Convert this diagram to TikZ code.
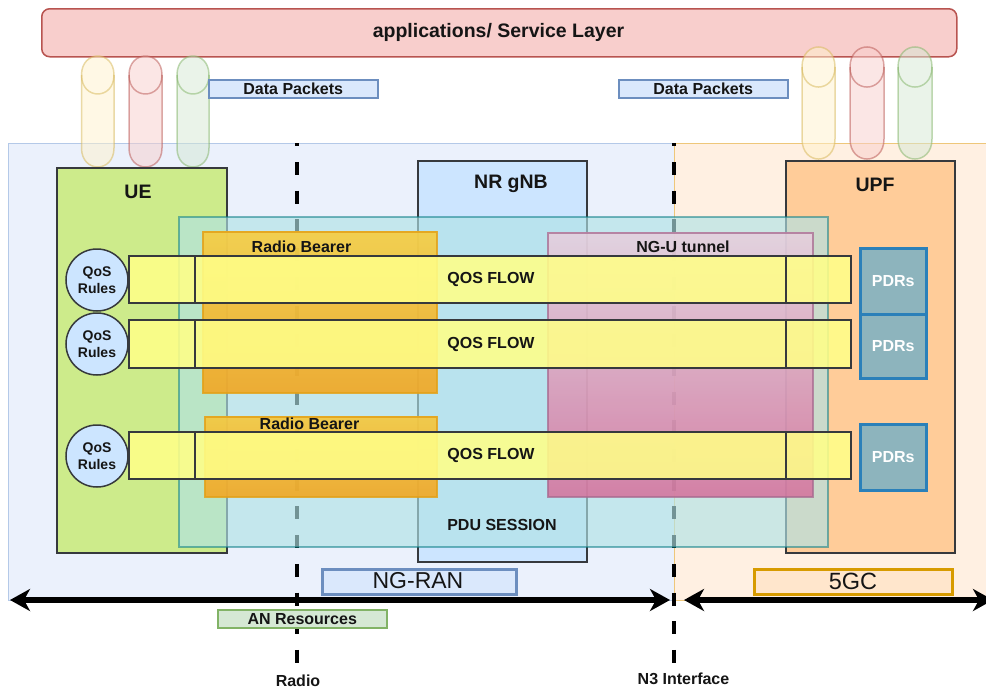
\documentclass[tikz,border=0pt]{standalone}
\usepackage{fontspec}
\setmainfont{Liberation Sans}
\usetikzlibrary{arrows.meta}
\definecolor{ranfill}{HTML}{EBF1FC}
\definecolor{ranline}{HTML}{B4C9E8}
\definecolor{gcfill}{HTML}{FFF0E2}
\definecolor{gcline}{HTML}{EEC77A}
\definecolor{appfill}{HTML}{F8CECC}
\definecolor{appline}{HTML}{B85450}
\definecolor{ylwfill}{HTML}{FFF2CC}
\definecolor{ylwline}{HTML}{D6B656}
\definecolor{redfill}{HTML}{F8CECC}
\definecolor{redline}{HTML}{B85450}
\definecolor{grnfill}{HTML}{D5E8D4}
\definecolor{grnline}{HTML}{82B366}
\definecolor{bluefill}{HTML}{DAE8FC}
\definecolor{blueline}{HTML}{6C8EBF}
\definecolor{uefill}{HTML}{CDEB8B}
\definecolor{gnbfill}{HTML}{CCE5FF}
\definecolor{upffill}{HTML}{FFCC99}
\definecolor{darkline}{HTML}{36393D}
\definecolor{pdufill}{HTML}{B0E3E6}
\definecolor{pduline}{HTML}{0E8088}
\definecolor{rbtop}{HTML}{F5CE45}
\definecolor{rbbot}{HTML}{F0A828}
\definecolor{rbline}{HTML}{E3A21A}
\definecolor{ngutop}{HTML}{E6D0DE}
\definecolor{ngubot}{HTML}{D5739D}
\definecolor{nguline}{HTML}{A86A90}
\definecolor{flowfill}{HTML}{FFFF88}
\definecolor{pdrfill}{HTML}{8DB4BD}
\definecolor{pdrline}{HTML}{2B80B9}
\definecolor{gcboxfill}{HTML}{FFE6CC}
\definecolor{gcboxline}{HTML}{D79B00}
\definecolor{txt}{HTML}{151515}

\tikzset{
  box/.style={draw=darkline, line width=1.5pt, anchor=north west, inner sep=0pt, outer sep=0pt},
  lab/.style={inner sep=0pt, text=txt, font=\fontsize{16}{18}\selectfont\bfseries},
  biglab/.style={inner sep=0pt, text=txt, font=\fontsize{19.5}{22}\selectfont\bfseries},
  rulelab/.style={inner sep=0pt, text=txt, align=center, font=\fontsize{14}{17}\selectfont\bfseries},
  pdrlab/.style={inner sep=0pt, text=white, font=\fontsize{16}{18}\selectfont\bfseries},
  dashline/.style={line width=3.3pt, black, dash pattern=on 13pt off 15.7pt, dash phase=9.7pt},
  bigarrow/.style={line width=6pt, black, {Stealth[length=20pt, width=22pt, inset=6pt]}-{Stealth[length=20pt, width=22pt, inset=6pt]}},
  flowline/.style={draw=darkline, line width=1.5pt},
  rulecirc/.style={circle, draw=darkline, line width=1.5pt, fill=gnbfill, minimum size=62pt, inner sep=0pt},
  pdrbox/.style={draw=pdrline, line width=2.5pt, fill=pdrfill, anchor=north west, inner sep=0pt, minimum width=66pt}
}

\newcommand\cyl[7]{%
  \path[fill=#6, fill opacity=0.5, draw=#7, draw opacity=0.5, line width=1.5pt]
    (#1,#3) .. controls (#1,#3-#5) and (#2,#3-#5) .. (#2,#3) -- (#2,#4)
    .. controls (#2,#4+#5) and (#1,#4+#5) .. (#1,#4) -- cycle;
  \path[draw=#7, draw opacity=0.5, line width=1.5pt]
    (#1,#3) .. controls (#1,#3+#5) and (#2,#3+#5) .. (#2,#3);}

\newcommand\qflow[3]{%
  \node[box, fill=flowfill, fill opacity=0.88, minimum width=722pt, minimum height=#3pt] (#1) at (129,#2) {};
  \draw[flowline] ([xshift=66pt]#1.north west) -- ([xshift=66pt]#1.south west);
  \draw[flowline] ([xshift=-65pt]#1.north east) -- ([xshift=-65pt]#1.south east);
  \node[lab] at ([xshift=1pt]#1.center) {QOS FLOW};}

\begin{document}
\begin{tikzpicture}[x=1pt, y=-1pt]
\useasboundingbox (0,0) rectangle (986,689);

% domain regions
\node[draw=ranline, line width=1.2pt, fill=ranfill, anchor=north west, inner sep=0pt, minimum width=666pt, minimum height=457pt] (ran) at (8,143) {};
\node[draw=gcline, line width=1.2pt, fill=gcfill, anchor=north west, inner sep=0pt, minimum width=330pt, minimum height=457pt] (gc) at (674,143) {};

% application layer
\node[draw=appline, line width=1.5pt, fill=appfill, rounded corners=8pt, anchor=north west, inner sep=0pt, minimum width=915pt, minimum height=48pt] (app) at (41,8) {};
\node[biglab] (apptxt) at (498.5,32) {applications/ Service Layer};

% cylinders
\cyl{81.5}{114}{75}{148}{25.3}{ylwfill}{ylwline}
\cyl{129}{162}{75}{148}{25.3}{redfill}{redline}
\cyl{177}{209}{75}{148}{25.3}{grnfill}{grnline}
\cyl{802}{835}{67}{139}{26.7}{ylwfill}{ylwline}
\cyl{850}{884}{67}{139}{26.7}{redfill}{redline}
\cyl{898}{932}{67}{139}{26.7}{grnfill}{grnline}

% data packets labels
\node[draw=blueline, line width=1.5pt, fill=bluefill, anchor=north west, inner sep=0pt, minimum width=169pt, minimum height=18pt] (dp1) at (208,79) {};
\node[lab] at (dp1.center) {Data Packets};
\node[draw=blueline, line width=1.5pt, fill=bluefill, anchor=north west, inner sep=0pt, minimum width=169pt, minimum height=18pt] (dp2) at (618,79) {};
\node[lab] at (dp2.center) {Data Packets};

% interface dashed lines
\coordinate (radtop) at (297,143);
\coordinate (radbot) at (297,665);
\coordinate (n3top) at (674,143);
\coordinate (n3bot) at (674,665);
\draw[dashline] (radtop) -- (radbot);
\draw[dashline] (n3top) -- (n3bot);

% network functions
\node[box, fill=uefill, minimum width=170pt, minimum height=385pt] (ue) at (57,168) {};
\node[box, fill=gnbfill, minimum width=169pt, minimum height=401pt] (gnb) at (418,161) {};
\node[box, fill=upffill, minimum width=169pt, minimum height=392pt] (upf) at (786,161) {};
\node[biglab] at (138,192) {UE};
\node[biglab] at (511,184) {NR gNB};
\node[biglab] at (875,185) {UPF};

% PDU session
\node[draw=pduline, draw opacity=0.55, line width=1.5pt, fill=pdufill, fill opacity=0.65, anchor=north west, inner sep=0pt, minimum width=649pt, minimum height=330pt] (pdu) at (178,216) {};
\node[lab] at (502,525) {PDU SESSION};

% radio bearers and NG-U tunnel
\node[draw=rbline, draw opacity=0.85, line width=1.5pt, top color=rbtop, bottom color=rbbot, fill opacity=0.93, anchor=north west, inner sep=0pt, minimum width=234pt, minimum height=161pt] (rb1) at (202,231) {};
\node[draw=rbline, draw opacity=0.85, line width=1.5pt, top color=rbtop!85!rbbot, bottom color=rbbot, fill opacity=0.93, anchor=north west, inner sep=0pt, minimum width=232pt, minimum height=80pt] (rb2) at (204,416) {};
\node[draw=nguline, draw opacity=0.75, line width=1.5pt, top color=ngutop, bottom color=ngubot, fill opacity=0.88, anchor=north west, inner sep=0pt, minimum width=265pt, minimum height=264pt] (ngu) at (547,232) {};
\node[lab] at (301.5,247) {Radio Bearer};
\node[lab] at (309.5,423.5) {Radio Bearer};
\node[lab] at (683,246.5) {NG-U tunnel};

% QoS flows
\qflow{f1}{256}{47}
\qflow{f2}{320}{48}
\qflow{f3}{432}{47}

% QoS rules
\node[rulecirc] (r1) at (97,280) {};
\node[rulecirc] (r2) at (97,344) {};
\node[rulecirc] (r3) at (97,456) {};
\node[rulelab] at (r1.center) {QoS\\Rules};
\node[rulelab] at (r2.center) {QoS\\Rules};
\node[rulelab] at (r3.center) {QoS\\Rules};

% PDRs
\node[pdrbox, minimum height=66pt] (p1) at (859,247) {};
\node[pdrbox, minimum height=64pt] (p2) at (859,313) {};
\node[pdrbox, minimum height=66pt] (p3) at (859,423) {};
\node[pdrlab] at (p1.center) {PDRs};
\node[pdrlab] at (p2.center) {PDRs};
\node[pdrlab] at (p3.center) {PDRs};

% domain labels
\node[draw=blueline, line width=2.5pt, fill=bluefill, anchor=north west, inner sep=0pt, minimum width=194pt, minimum height=25pt] (ranlab) at (321,568) {};
\node[inner sep=0pt, text=txt, font=\fontsize{23}{25}\selectfont] at (418,581) {NG-RAN};
\node[draw=gcboxline, line width=2.5pt, fill=gcboxfill, anchor=north west, inner sep=0pt, minimum width=198pt, minimum height=25pt] (gclab) at (753,568) {};
\node[inner sep=0pt, text=txt, font=\fontsize{23.5}{25}\selectfont] at (853,581) {5GC};

% span arrows
\coordinate (ranL) at (10,600);
\coordinate (ranR) at (670,600);
\coordinate (gcL) at (684,600);
\coordinate (gcR) at (993,600);
\draw[bigarrow] (ranL) -- (ranR);
\draw[bigarrow] (gcL) -- (gcR);

% AN resources
\node[draw=grnline, line width=1.5pt, fill=grnfill, anchor=north west, inner sep=0pt, minimum width=169pt, minimum height=18pt] (anr) at (217,609) {};
\node[lab] at (anr.center) {AN Resources};

% interface labels
\node[lab] at (298,681) {Radio};
\node[lab] at (683.5,679) {N3 Interface};
\end{tikzpicture}
\end{document}
